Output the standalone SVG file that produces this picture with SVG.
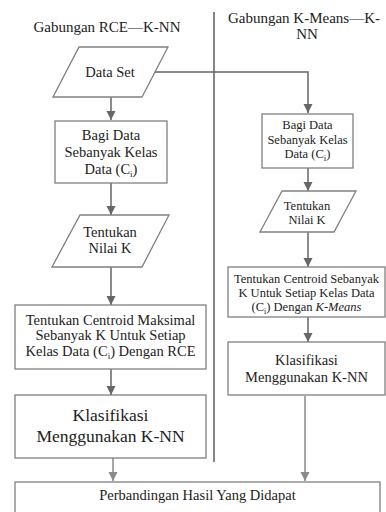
<svg xmlns="http://www.w3.org/2000/svg" width="386" height="512" viewBox="0 0 386 512">
<defs>
<marker id="ah" markerUnits="userSpaceOnUse" markerWidth="10" markerHeight="10" refX="9" refY="4.5" orient="auto">
<path d="M0,0 L9,4.5 L0,9 z" fill="#666"/>
</marker>
<marker id="ahl" markerUnits="userSpaceOnUse" markerWidth="10" markerHeight="10" refX="9" refY="4.5" orient="auto">
<path d="M0,0 L9,4.5 L0,9 z" fill="#8a8a8a"/>
</marker>
<style>
text{font-family:"Liberation Serif","Times New Roman",serif;fill:#222;text-anchor:middle}
.t{font-size:15px}
.m{font-size:14.5px}
.s{font-size:12.5px}
.b{font-size:17.5px}
.r{font-size:14.5px}
.shape{fill:#fff;stroke:#808080;stroke-width:1.3}
.c{fill:none;stroke:#666;stroke-width:1.5}
.cl{fill:none;stroke:#8a8a8a;stroke-width:1.5}
.sub{font-size:9px}
</style>
</defs>
<rect width="386" height="512" fill="#fff"/>
<g id="titles">
<text class="t" x="107" y="32">Gabungan RCE—K-NN</text>
<text class="t" x="304" y="23">Gabungan K-Means—K-</text>
<text class="t" x="307" y="39">NN</text>
</g>
<g id="connectors">
<line x1="214" y1="12" x2="214" y2="462" stroke="#444" stroke-width="1.3"/>
<polyline class="c" points="155,72 308,72 308,113" marker-end="url(#ah)"/>
<line class="c" x1="111" y1="97" x2="111" y2="120" marker-end="url(#ah)"/>
<line class="c" x1="111" y1="183" x2="111" y2="215" marker-end="url(#ah)"/>
<line class="c" x1="111" y1="267" x2="111" y2="305" marker-end="url(#ah)"/>
<line class="c" x1="111" y1="369" x2="111" y2="395" marker-end="url(#ah)"/>
<line class="cl" x1="113" y1="458" x2="113" y2="481" marker-end="url(#ahl)"/>
<line class="c" x1="308" y1="168" x2="308" y2="191" marker-end="url(#ah)"/>
<line class="c" x1="308" y1="232" x2="308" y2="267" marker-end="url(#ah)"/>
<line class="c" x1="308" y1="317" x2="308" y2="342" marker-end="url(#ah)"/>
<line class="cl" x1="305" y1="396" x2="305" y2="481" marker-end="url(#ahl)"/>
</g>
<g id="dataset">
<polygon class="shape" points="79,47 168,47 142,97 53,97"/>
<text class="m" x="110" y="77">Data Set</text>
</g>
<g id="bagi-left">
<rect class="shape" x="55" y="121" width="112" height="62"/>
<text class="m" x="111" y="140">Bagi Data</text>
<text class="m" x="111" y="157">Sebanyak Kelas</text>
<text class="m" x="111" y="174">Data (C<tspan class="sub" dy="3">i</tspan><tspan dy="-3">)</tspan></text>
</g>
<g id="nilaik-left">
<polygon class="shape" points="80,215 169,215 142,267 52,267"/>
<text class="m" x="110" y="237">Tentukan</text>
<text class="m" x="110" y="253">Nilai K</text>
</g>
<g id="centroid-left">
<rect class="shape" x="15" y="305" width="191" height="64"/>
<text class="m" x="110.5" y="325">Tentukan Centroid Maksimal</text>
<text class="m" x="110.5" y="340">Sebanyak K Untuk Setiap</text>
<text class="m" x="110.5" y="356">Kelas Data (C<tspan class="sub" dy="3">i</tspan><tspan dy="-3">) Dengan RCE</tspan></text>
</g>
<g id="knn-left">
<rect class="shape" x="15" y="395" width="191" height="63"/>
<text class="b" x="110.5" y="421">Klasifikasi</text>
<text class="b" x="110.5" y="442">Menggunakan K-NN</text>
</g>
<g id="bagi-right">
<rect class="shape" x="262" y="114" width="91" height="54"/>
<text class="s" x="307.5" y="129">Bagi Data</text>
<text class="s" x="307.5" y="144">Sebanyak Kelas</text>
<text class="s" x="307.5" y="158">Data (C<tspan class="sub" font-size="8" dy="2.5">i</tspan><tspan dy="-2.5">)</tspan></text>
</g>
<g id="nilaik-right">
<polygon class="shape" points="282,191 356,191 334,232 260,232"/>
<text class="s" x="307" y="210">Tentukan</text>
<text class="s" x="307" y="224">Nilai K</text>
</g>
<g id="centroid-right">
<rect class="shape" x="228" y="267" width="157" height="50"/>
<text class="s" x="306.5" y="283">Tentukan Centroid Sebanyak</text>
<text class="s" x="306.5" y="297">K Untuk Setiap Kelas Data</text>
<text class="s" x="306.5" y="311">(C<tspan font-size="8" dy="2.5">i</tspan><tspan dy="-2.5">) Dengan </tspan><tspan font-style="italic">K-Means</tspan></text>
</g>
<g id="knn-right">
<rect class="shape" x="228" y="342" width="157" height="53"/>
<text class="r" x="306.5" y="365">Klasifikasi</text>
<text class="r" x="306.5" y="382">Menggunakan K-NN</text>
</g>
<g id="perbandingan">
<rect class="shape" x="15" y="482" width="365" height="40"/>
<text class="r" x="197.5" y="500">Perbandingan Hasil Yang Didapat</text>
</g>
</svg>
